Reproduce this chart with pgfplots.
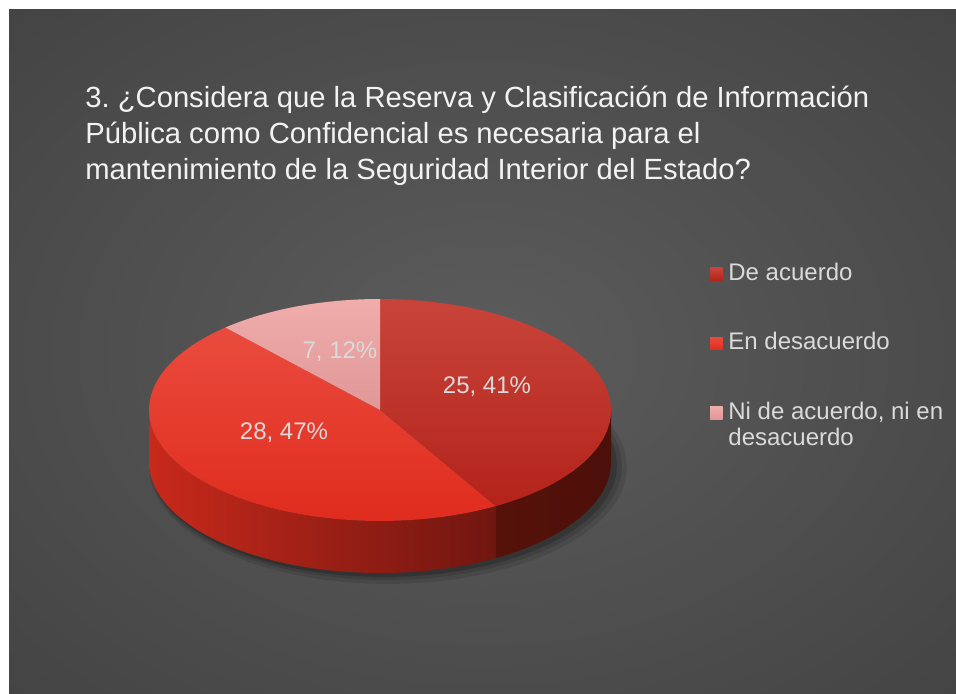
\documentclass[border=0pt]{standalone}
\usepackage{fontspec}
\setmainfont{Liberation Sans}
\usepackage{pgfplots}
\usepackage{pgfplotstable}
\pgfplotsset{compat=1.18}
\frenchspacing

\definecolor{bgin}{HTML}{5C5C5C}
\definecolor{bgmid}{HTML}{3A3A3A}
\definecolor{bgout}{HTML}{242424}
\definecolor{deTop}{HTML}{C8443A}
\definecolor{deBot}{HTML}{B3231A}
\definecolor{deSideL}{HTML}{561209}
\definecolor{deSideR}{HTML}{4C0F09}
\definecolor{enTop}{HTML}{EA4B3E}
\definecolor{enBot}{HTML}{DF2C1E}
\definecolor{enSideL}{HTML}{C8291B}
\definecolor{enSideR}{HTML}{701610}
\definecolor{niTop}{HTML}{EFADAB}
\definecolor{niBot}{HTML}{E09797}
\definecolor{lbl}{HTML}{DADADA}
\definecolor{ttl}{HTML}{F2F2F2}

\pgfdeclareradialshading{bgshade}{\pgfpointorigin}{color(0bp)=(bgin); color(50bp)=(bgmid); color(72bp)=(bgout)}

% survey answers
\pgfplotstableread[col sep=semicolon]{
label;value
De acuerdo;25
En desacuerdo;28
Ni de acuerdo, ni en desacuerdo;7
}\piedata
\pgfplotstablegetelem{0}{value}\of\piedata\edef\vA{\pgfplotsretval}
\pgfplotstablegetelem{1}{value}\of\piedata\edef\vB{\pgfplotsretval}
\pgfplotstablegetelem{2}{value}\of\piedata\edef\vC{\pgfplotsretval}
\pgfmathsetmacro\tot{\vA+\vB+\vC}
\pgfmathsetmacro\aB{\vA/\tot*360}
\pgfmathsetmacro\aC{(\vA+\vB)/\tot*360}

% pie geometry (axis units = pixels of the slide)
\def\cx{380}\def\cy{410}\def\rx{231}\def\ry{111}\def\dz{52}

\newcommand\topslice[2]{(axis cs:\cx,\cy)
  \foreach \i [evaluate=\i as \t using {#1+(#2-#1)*\i/72}] in {0,...,72}
    { -- (axis cs:{\cx+\rx*sin(\t)},{\cy-\ry*cos(\t)}) } -- cycle}
\newcommand\sideslice[2]{(axis cs:{\cx+\rx*sin(#1)},{\cy-\ry*cos(#1)})
  \foreach \i [evaluate=\i as \t using {#1+(#2-#1)*\i/60}] in {0,...,60}
    { -- (axis cs:{\cx+\rx*sin(\t)},{\cy-\ry*cos(\t)}) }
  \foreach \i [evaluate=\i as \t using {#2-(#2-#1)*\i/60}] in {0,...,60}
    { -- (axis cs:{\cx+\rx*sin(\t)},{\cy-\ry*cos(\t)+\dz}) } -- cycle}
\newcommand\ellpath[4]{(axis cs:{#1},{#2-#4})
  \foreach \t in {5,10,...,360}
    { -- (axis cs:{#1+#3*sin(\t)},{#2-#4*cos(\t)}) } -- cycle}

\begin{document}
\begin{tikzpicture}
\begin{axis}[
    width=478pt, height=347pt, scale only axis,
    xmin=0, xmax=956, ymin=0, ymax=694, y dir=reverse,
    hide axis, clip=false,
]
\fill[white] (axis cs:0,0) rectangle (axis cs:956,694);
\fill[bgout] (axis cs:9,10) rectangle (axis cs:975,710);
\shade[shading=bgshade] (axis cs:9,10) rectangle (axis cs:958,696);

% soft shadow
\fill[black, opacity=0.10] \ellpath{388}{467}{239}{117};
\fill[black, opacity=0.12] \ellpath{386}{466}{236}{114};
\fill[black, opacity=0.18] \ellpath{384}{465}{233}{112};

% sides
\shade[left color=deSideL, right color=deSideR] \sideslice{90}{\aB};
\shade[left color=enSideL, right color=enSideR] \sideslice{\aB}{270};

% top faces
\shade[top color=deTop, bottom color=deBot] \topslice{0}{\aB};
\shade[top color=enTop, bottom color=enBot] \topslice{\aB}{\aC};
\shade[top color=niTop, bottom color=niBot] \topslice{\aC}{360};

% data labels
\begin{scope}[every node/.style={font=\fontsize{12}{14}\selectfont, text=lbl, inner sep=0pt}]
\node at (axis cs:487,387) {25, 41\%};
\node at (axis cs:284,433) {28, 47\%};
\node at (axis cs:340,352) {7, 12\%};
\end{scope}

% title
\begin{scope}[every node/.style={font=\fontsize{14.6}{17.5}\selectfont, text=ttl, inner sep=0pt, anchor=base west}]
\node at (axis cs:85,107.5) {3. ¿Considera que la Reserva y Clasificación de Información};
\node at (axis cs:85,144) {Pública como Confidencial es necesaria para el};
\node at (axis cs:85,180) {mantenimiento de la Seguridad Interior del Estado?};
\end{scope}

% legend
\shade[top color=deTop, bottom color=deBot] (axis cs:710,268) rectangle (axis cs:722.5,280.5);
\shade[top color=enTop, bottom color=enBot] (axis cs:710,337.5) rectangle (axis cs:722.5,350);
\shade[top color=niTop, bottom color=niBot] (axis cs:710,406.5) rectangle (axis cs:722.5,419);
\begin{scope}[every node/.style={font=\fontsize{12}{14}\selectfont, text=lbl, inner sep=0pt, anchor=base west}]
\node at (axis cs:728,281) {De acuerdo};
\node at (axis cs:728,350) {En desacuerdo};
\node at (axis cs:728,419) {Ni de acuerdo, ni en};
\node at (axis cs:728,445) {desacuerdo};
\end{scope}
\end{axis}
\pgfresetboundingbox
\path (current axis.south west) rectangle (current axis.north east);
\end{tikzpicture}
\end{document}
